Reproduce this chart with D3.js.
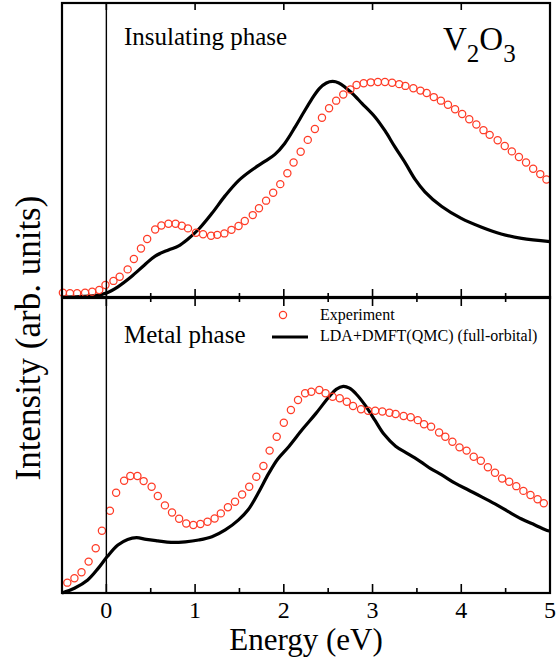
<!DOCTYPE html>
<html>
<head>
<meta charset="utf-8">
<script src="https://cdn.jsdelivr.net/npm/d3@7"></script>
<style>
  body { margin: 0; background: #fff; }
  svg { display: block; font-family: "Liberation Serif", "DejaVu Serif", serif; }
</style>
</head>
<body>
<svg id="chart" width="556" height="658"></svg>
<script>
// energy (eV), intensity (arb. units)
const insExp = [[-0.49,0.018],[-0.41,0.016],[-0.33,0.016],[-0.24,0.018],[-0.16,0.021],[-0.08,0.027],[-0.01,0.044],[0.08,0.058],[0.15,0.072],[0.24,0.097],[0.31,0.132],[0.39,0.168],[0.46,0.200],[0.55,0.232],[0.62,0.246],[0.70,0.252],[0.78,0.252],[0.85,0.245],[0.92,0.236],[1.01,0.221],[1.09,0.216],[1.18,0.211],[1.25,0.214],[1.33,0.219],[1.41,0.231],[1.49,0.244],[1.56,0.261],[1.65,0.281],[1.72,0.304],[1.80,0.330],[1.88,0.357],[1.96,0.386],[2.04,0.423],[2.11,0.459],[2.19,0.496],[2.27,0.536],[2.35,0.573],[2.43,0.611],[2.51,0.643],[2.59,0.669],[2.67,0.690],[2.75,0.707],[2.82,0.722],[2.90,0.728],[2.98,0.731],[3.06,0.732],[3.14,0.732],[3.22,0.730],[3.30,0.725],[3.37,0.719],[3.46,0.711],[3.54,0.703],[3.61,0.695],[3.69,0.681],[3.77,0.669],[3.85,0.655],[3.93,0.640],[4.01,0.624],[4.09,0.606],[4.17,0.588],[4.25,0.569],[4.32,0.553],[4.41,0.535],[4.49,0.515],[4.57,0.497],[4.65,0.478],[4.73,0.459],[4.81,0.438],[4.89,0.420],[4.96,0.402]];
const insCalc = [[-0.5,0.003],[-0.3,0.005],[-0.13,0.008],[0.01,0.018],[0.13,0.038],[0.28,0.072],[0.43,0.112],[0.55,0.142],[0.70,0.163],[0.81,0.176],[0.92,0.200],[1.04,0.233],[1.19,0.287],[1.34,0.347],[1.49,0.398],[1.64,0.434],[1.79,0.464],[1.90,0.487],[2.01,0.524],[2.13,0.581],[2.22,0.627],[2.31,0.672],[2.40,0.710],[2.48,0.729],[2.55,0.734],[2.62,0.729],[2.70,0.712],[2.77,0.694],[2.88,0.660],[3.03,0.613],[3.14,0.567],[3.25,0.513],[3.37,0.457],[3.48,0.402],[3.59,0.360],[3.78,0.310],[4.00,0.270],[4.23,0.240],[4.45,0.217],[4.68,0.202],[5.0,0.191]];
const metExp = [[-0.44,0.035],[-0.36,0.050],[-0.28,0.070],[-0.20,0.106],[-0.12,0.151],[-0.05,0.210],[0.04,0.278],[0.11,0.339],[0.20,0.379],[0.27,0.395],[0.35,0.395],[0.42,0.378],[0.51,0.359],[0.58,0.328],[0.66,0.296],[0.74,0.272],[0.82,0.251],[0.90,0.235],[0.98,0.230],[1.06,0.233],[1.14,0.241],[1.22,0.252],[1.29,0.269],[1.37,0.290],[1.45,0.308],[1.53,0.333],[1.61,0.359],[1.69,0.393],[1.77,0.429],[1.84,0.481],[1.92,0.528],[2.00,0.575],[2.08,0.618],[2.16,0.652],[2.24,0.675],[2.31,0.680],[2.40,0.686],[2.47,0.675],[2.55,0.663],[2.63,0.658],[2.71,0.646],[2.78,0.632],[2.87,0.621],[2.95,0.616],[3.03,0.616],[3.11,0.613],[3.19,0.609],[3.26,0.605],[3.35,0.598],[3.43,0.594],[3.51,0.584],[3.58,0.570],[3.66,0.562],[3.75,0.542],[3.82,0.528],[3.90,0.511],[3.98,0.492],[4.06,0.481],[4.14,0.460],[4.22,0.447],[4.30,0.425],[4.38,0.406],[4.46,0.387],[4.54,0.376],[4.62,0.361],[4.70,0.345],[4.78,0.331],[4.86,0.317],[4.93,0.303]];
const metCalc = [[-0.5,0.0],[-0.36,0.016],[-0.21,0.044],[-0.09,0.084],[0.01,0.123],[0.13,0.162],[0.24,0.181],[0.34,0.187],[0.45,0.181],[0.58,0.176],[0.73,0.171],[0.89,0.173],[1.04,0.179],[1.19,0.190],[1.34,0.213],[1.49,0.247],[1.60,0.282],[1.71,0.337],[1.83,0.404],[1.93,0.452],[2.06,0.496],[2.21,0.553],[2.36,0.606],[2.51,0.663],[2.59,0.688],[2.67,0.698],[2.74,0.692],[2.81,0.674],[2.92,0.633],[3.03,0.582],[3.13,0.536],[3.26,0.496],[3.40,0.470],[3.54,0.444],[3.65,0.421],[3.78,0.399],[3.93,0.371],[4.08,0.348],[4.23,0.325],[4.38,0.301],[4.53,0.275],[4.68,0.250],[4.83,0.230],[4.98,0.210],[5.0,0.209]];

const majorTicks = [0, 1, 2, 3, 4, 5];
const minorTicks = [0.5, 1.5, 2.5, 3.5, 4.5];
const tickLabels = ["0", "1", "2", "3", "4", "5"];

const red = "#ff3b26";
const svg = d3.select("#chart");

const x = d3.scaleLinear().domain([-0.5, 5]).range([62, 550]);
const yTop = d3.scaleLinear().domain([0, 1]).range([298, 3]);
const yBot = d3.scaleLinear().domain([0, 1]).range([593, 297]);

function panel(expData, calcData, y) {
    const g = svg.append("g");

    g.append("path")
        .datum(calcData)
        .attr("fill", "none")
        .attr("stroke", "#000")
        .attr("stroke-width", 3.2)
        .attr("stroke-linejoin", "round")
        .attr("d", d3.line().x(d => x(d[0])).y(d => y(d[1])).curve(d3.curveCatmullRom.alpha(0.5)));

    g.selectAll(".exp")
        .data(expData)
        .join("circle")
        .attr("class", "exp")
        .attr("cx", d => x(d[0]))
        .attr("cy", d => y(d[1]))
        .attr("r", 3.6)
        .attr("fill", "none")
        .attr("stroke", red)
        .attr("stroke-width", 1.25);
}

panel(insExp, insCalc, yTop);
panel(metExp, metCalc, yBot);

// zero line
svg.append("line")
    .attr("x1", x(0)).attr("x2", x(0))
    .attr("y1", yTop.range()[1]).attr("y2", yBot.range()[0])
    .attr("stroke", "#000").attr("stroke-width", 1.4);

// ticks, all pointing inward
function ticks(yPos, dir, vals, len) {
    svg.append("g").selectAll("line")
        .data(vals)
        .join("line")
        .attr("x1", d => x(d)).attr("x2", d => x(d))
        .attr("y1", yPos).attr("y2", yPos + dir * len)
        .attr("stroke", "#000").attr("stroke-width", 1.6);
}
ticks(3, 1, majorTicks, 7);
ticks(298, -1, majorTicks, 9);
ticks(298, -1, minorTicks, 5);
ticks(297, 1, majorTicks, 9);
ticks(297, 1, minorTicks, 5);
ticks(593, -1, majorTicks, 9);
ticks(593, -1, minorTicks, 5);

// frames
[yTop, yBot].forEach(y => {
    svg.append("rect")
        .attr("x", 62).attr("y", y.range()[1])
        .attr("width", 550 - 62).attr("height", y.range()[0] - y.range()[1])
        .attr("fill", "none").attr("stroke", "#000").attr("stroke-width", 2.2);
});

// tick labels
svg.append("g").selectAll("text")
    .data(majorTicks)
    .join("text")
    .attr("x", d => x(d))
    .attr("y", 618)
    .attr("text-anchor", "middle")
    .attr("font-size", 24)
    .text((d, i) => tickLabels[i]);

svg.append("text")
    .attr("x", 306).attr("y", 650)
    .attr("text-anchor", "middle")
    .attr("font-size", 31)
    .text("Energy (eV)");

svg.append("text")
    .attr("transform", "translate(40,338) rotate(-90)")
    .attr("text-anchor", "middle")
    .attr("font-size", 35)
    .text("Intensity (arb. units)");

svg.append("text")
    .attr("x", 124).attr("y", 45)
    .attr("font-size", 25)
    .text("Insulating phase");

svg.append("text")
    .attr("x", 124).attr("y", 343)
    .attr("font-size", 25)
    .text("Metal phase");

const formula = svg.append("text")
    .attr("x", 443).attr("y", 50)
    .attr("font-size", 33);
formula.append("tspan").text("V");
formula.append("tspan").attr("font-size", 25).attr("dy", 12).text("2");
formula.append("tspan").attr("dy", -12).text("O");
formula.append("tspan").attr("font-size", 25).attr("dy", 12).text("3");

// legend
svg.append("circle")
    .attr("cx", 283).attr("cy", 315).attr("r", 3.6)
    .attr("fill", "none").attr("stroke", red).attr("stroke-width", 1.25);
svg.append("line")
    .attr("x1", 272).attr("x2", 308)
    .attr("y1", 337).attr("y2", 337)
    .attr("stroke", "#000").attr("stroke-width", 3.2);
svg.append("text")
    .attr("x", 320).attr("y", 320)
    .attr("font-size", 16)
    .text("Experiment");
svg.append("text")
    .attr("x", 320).attr("y", 341)
    .attr("font-size", 16)
    .text("LDA+DMFT(QMC) (full-orbital)");
</script>
</body>
</html>
